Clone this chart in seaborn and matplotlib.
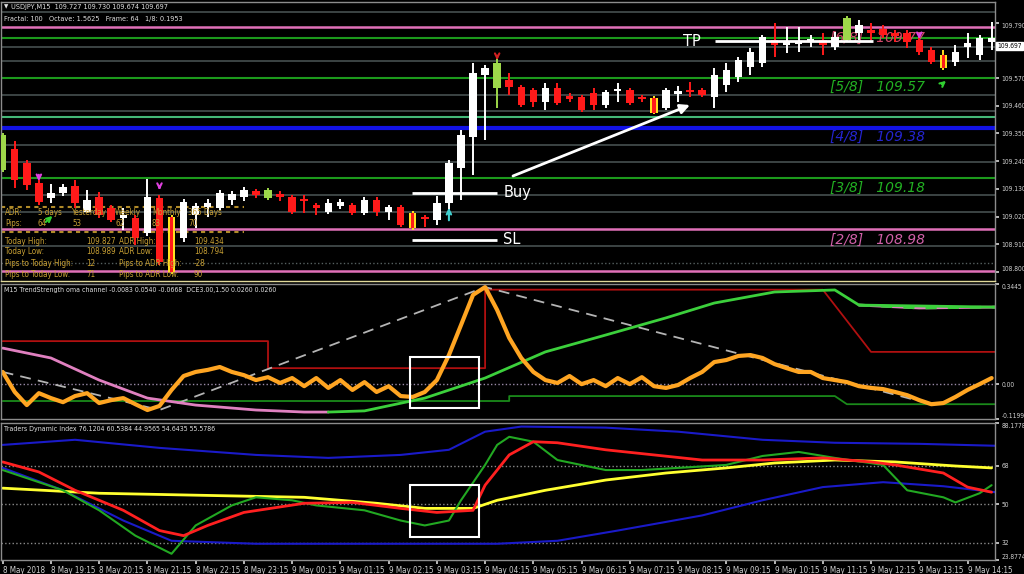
import numpy as np
import matplotlib
matplotlib.use("Agg")
import matplotlib.pyplot as plt
from matplotlib.patches import Rectangle
import seaborn as sns

# ---- USDJPY M15 bars, bar 0 = 8 May 18:15 ----
opens = [109.205, 109.288, 109.233, 109.153, 109.094, 109.114, 109.141, 109.038, 109.098, 109.054,
         109.014, 109.014, 108.955, 109.094, 109.018, 108.935, 109.026, 109.058, 109.054, 109.086,
         109.098, 109.122, 109.094, 109.110, 109.098, 109.090, 109.066, 109.038, 109.062, 109.066,
         109.034, 109.086, 109.038, 109.058, 109.034, 109.018, 109.006, 109.074, 109.213, 109.336,
         109.582, 109.531, 109.562, 109.534, 109.523, 109.475, 109.531, 109.499, 109.495, 109.511,
         109.463, 109.519, 109.523, 109.495, 109.491, 109.451, 109.507, 109.523, 109.523, 109.495,
         109.542, 109.574, 109.614, 109.630, 109.721, 109.701, 109.705, 109.713, 109.721, 109.693,
         109.721, 109.749, 109.761, 109.765, 109.749, 109.749, 109.721, 109.681, 109.662, 109.634,
         109.693, 109.662, 109.713]
highs = [109.352, 109.320, 109.245, 109.165, 109.149, 109.149, 109.165, 109.126, 109.118, 109.066,
         109.054, 109.026, 109.169, 109.106, 109.026, 109.090, 109.074, 109.090, 109.126, 109.122,
         109.137, 109.130, 109.134, 109.122, 109.106, 109.106, 109.074, 109.090, 109.090, 109.074,
         109.098, 109.098, 109.066, 109.066, 109.042, 109.026, 109.102, 109.245, 109.364, 109.630,
         109.622, 109.654, 109.590, 109.542, 109.531, 109.550, 109.550, 109.511, 109.503, 109.531,
         109.523, 109.550, 109.531, 109.503, 109.499, 109.531, 109.538, 109.554, 109.531, 109.610,
         109.630, 109.654, 109.689, 109.741, 109.789, 109.773, 109.773, 109.741, 109.749, 109.753,
         109.817, 109.801, 109.789, 109.781, 109.761, 109.761, 109.737, 109.693, 109.681, 109.701,
         109.749, 109.741, 109.793]
lows = [109.197, 109.134, 109.126, 109.066, 109.074, 109.102, 109.054, 109.034, 109.014, 108.998,
        108.967, 108.907, 108.943, 108.828, 108.792, 108.919, 108.975, 109.018, 109.046, 109.066,
        109.082, 109.094, 109.086, 109.082, 109.030, 109.034, 109.026, 109.030, 109.050, 109.026,
        109.026, 109.022, 109.006, 108.979, 108.967, 108.979, 108.987, 109.026, 109.086, 109.185,
        109.324, 109.451, 109.503, 109.455, 109.455, 109.443, 109.463, 109.475, 109.435, 109.443,
        109.451, 109.475, 109.463, 109.475, 109.427, 109.443, 109.475, 109.495, 109.495, 109.451,
        109.515, 109.554, 109.582, 109.614, 109.654, 109.670, 109.674, 109.693, 109.662, 109.681,
        109.713, 109.721, 109.721, 109.729, 109.713, 109.689, 109.662, 109.626, 109.602, 109.618,
        109.650, 109.642, 109.681]
closes = [109.344, 109.165, 109.145, 109.078, 109.114, 109.137, 109.074, 109.086, 109.026, 109.006,
          109.026, 108.935, 109.098, 108.840, 108.800, 109.078, 109.062, 109.074, 109.114, 109.110,
          109.126, 109.106, 109.126, 109.098, 109.038, 109.082, 109.054, 109.074, 109.078, 109.034,
          109.086, 109.038, 109.058, 108.987, 108.975, 109.010, 109.074, 109.233, 109.344, 109.590,
          109.610, 109.630, 109.534, 109.463, 109.475, 109.531, 109.471, 109.487, 109.443, 109.463,
          109.515, 109.527, 109.471, 109.487, 109.431, 109.523, 109.519, 109.515, 109.503, 109.582,
          109.602, 109.642, 109.674, 109.733, 109.701, 109.713, 109.717, 109.725, 109.701, 109.733,
          109.809, 109.781, 109.749, 109.741, 109.737, 109.713, 109.674, 109.634, 109.610, 109.674,
          109.709, 109.729, 109.729]
lime_bars = [0, 22, 41, 70]
yellow_bars = [14, 34, 54, 78]

# murrey math lines
grey_levels = [109.832, 109.693, 109.638, 109.503, 109.439, 109.305, 109.237, 109.106, 109.038, 108.903]
pink_levels = [109.771, 108.970, 108.804]
green_levels = [109.729, 109.570, 109.173]
teal_levels = [109.416]
blue_levels = [109.372]
octave_names = ["[6/8]", "[5/8]", "[4/8]", "[3/8]", "[2/8]"]
octave_values = ["109.77", "109.57", "109.38", "109.18", "108.98"]
octave_text_y = [109.729, 109.534, 109.336, 109.134, 108.927]
octave_colors = ["#d04a6a", "#22b022", "#2424d0", "#22b022", "#d060a8"]

# signal arrows (from -> to)
sig_x0 = [3, 13, 3.4, 37, 41, 76, 77.7]
sig_p0 = [109.197, 109.153, 108.991, 108.994, 109.670, 109.757, 109.538]
sig_x1 = [3, 13, 4.3, 37, 41, 76, 78.4]
sig_p1 = [109.149, 109.114, 109.030, 109.066, 109.630, 109.713, 109.566]
sig_col = ["#e040e0", "#e040e0", "#30d030", "#40d0d0", "#d02020", "#e040e0", "#30d030"]

# trade drawing
buy_level, sl_level, tp_level = 109.114, 108.927, 109.717
trend_start = (42.1, 109.177)
trend_end = (57.2, 109.467)

# ---- TrendStrength panel ----
orange = [0.042, -0.027, -0.072, -0.031, -0.048, -0.062, -0.041, -0.031, -0.065, -0.055,
          -0.048, -0.069, -0.089, -0.075, -0.020, 0.028, 0.042, 0.049, 0.059, 0.042,
          0.031, 0.014, 0.024, 0.004, 0.021, -0.007, 0.021, -0.013, 0.014, -0.020,
          0.007, -0.027, -0.007, -0.041, -0.044, -0.027, 0.014, 0.100, 0.203, 0.307,
          0.334, 0.255, 0.159, 0.090, 0.042, 0.014, 0.004, 0.028, 0.000, 0.014,
          -0.007, 0.021, 0.000, 0.024, -0.007, -0.013, -0.003, 0.021, 0.042, 0.076,
          0.083, 0.097, 0.100, 0.090, 0.069, 0.055, 0.042, 0.042, 0.021, 0.014,
          0.007, -0.007, -0.013, -0.017, -0.027, -0.038, -0.055, -0.069, -0.065, -0.044,
          -0.020, 0.000, 0.021]
dce_x = [0, 13, 40, 77]
dce_y = [0.042, -0.089, 0.334, -0.069]
chan_red_x = [0, 22, 22, 40, 40, 68, 72, 82.3]
chan_red_y = [0.148, 0.148, 0.055, 0.055, 0.325, 0.325, 0.111, 0.111]
chan_dg_x = [0, 42, 42, 69, 70, 82.3]
chan_dg_y = [-0.058, -0.058, -0.041, -0.041, -0.069, -0.069]
ts_pink_x = [0, 4, 8, 12, 16, 21, 25, 27]
ts_pink_y = [0.124, 0.090, 0.014, -0.048, -0.072, -0.089, -0.096, -0.096]
ts_green_x = [27, 30, 35, 40, 45, 50, 55, 59, 64, 69, 71, 82.3]
ts_green_y = [-0.096, -0.092, -0.048, 0.021, 0.111, 0.169, 0.228, 0.279, 0.317, 0.324, 0.272, 0.265]
ts_pink2_x = [71, 76, 82.3]
ts_pink2_y = [0.272, 0.262, 0.265]

# ---- Traders Dynamic Index panel ----
tdi_green_x = [0, 2, 5, 8, 11, 14, 16, 19, 21, 24, 26, 30, 33, 35, 37, 38, 40, 41, 42, 44,
               46, 50, 53, 56, 60, 63, 66, 69, 73, 75, 78, 79, 81, 82]
tdi_green_y = [66.1, 62.3, 56.6, 47.2, 35.3, 26.8, 40.1, 49.5, 53.3, 51.9, 49.5, 47.2, 42.4, 40.1, 42.4,
               51.9, 68.5, 77.9, 81.7, 79.4, 70.8, 66.1, 66.1, 67.1, 68.5, 72.7, 74.6, 71.8, 68.5, 56.6,
               53.3, 50.9, 55.2, 59.0]
tdi_red_x = [0, 3, 6, 10, 13, 15, 17, 20, 25, 29, 33, 36, 39, 40, 42, 44, 46, 50, 54, 58,
             63, 68, 72, 74, 78, 80, 82]
tdi_red_y = [69.9, 65.2, 56.6, 47.2, 37.7, 35.3, 40.1, 46.2, 50.5, 50.9, 48.1, 46.2, 47.2, 59.0, 73.2,
             79.4, 78.9, 75.6, 73.2, 70.8, 70.8, 71.8, 69.9, 68.5, 64.7, 58.1, 55.7]
tdi_yellow_x = [0, 8, 16, 25, 31, 35, 39, 41, 45, 50, 55, 60, 64, 69, 74, 79, 82]
tdi_yellow_y = [57.6, 55.2, 54.3, 53.3, 50.5, 48.1, 48.1, 51.9, 56.6, 61.4, 64.7, 67.1, 69.4, 70.8, 69.9,
                68.0, 67.1]
tdi_up_x = [0, 6, 13, 21, 27, 33, 37, 40, 43, 50, 56, 63, 69, 76, 82.3]
tdi_up_y = [77.9, 80.3, 76.5, 73.2, 71.8, 73.2, 75.6, 84.1, 86.5, 86.0, 84.1, 80.3, 78.9, 78.4, 77.5]
tdi_lo_x = [0, 5, 10, 14, 21, 33, 41, 46, 51, 58, 63, 68, 73, 78, 82.3]
tdi_lo_y = [67.1, 56.6, 42.4, 32.9, 31.5, 31.5, 31.5, 32.9, 37.7, 44.8, 51.9, 58.1, 60.4, 58.5, 55.7]

time_labels = ["8 May 2018", "8 May 19:15", "8 May 20:15", "8 May 21:15", "8 May 22:15",
               "8 May 23:15", "9 May 00:15", "9 May 01:15", "9 May 02:15", "9 May 03:15",
               "9 May 04:15", "9 May 05:15", "9 May 06:15", "9 May 07:15", "9 May 08:15",
               "9 May 09:15", "9 May 10:15", "9 May 11:15", "9 May 12:15", "9 May 13:15",
               "9 May 14:15"]

# ADR info box
adr_row1 = ["ADR:", "5 days", "Yesterday", "Weekly", "Monthly", "365 Days"]
adr_row2 = ["Pips:", "64", "53", "62", "83", "70"]
info_rows = [["Today High:", "109.827", "ADR High:", "109.434"],
             ["Today Low:", "108.989", "ADR Low:", "108.794"],
             ["Pips to Today High:", "12", "Pips to ADR High:", "-28"],
             ["Pips to Today Low:", "71", "Pips to ADR Low:", "90"]]

sns.set_theme(style="dark", rc={"axes.facecolor": "black", "figure.facecolor": "black",
                                "axes.edgecolor": "#8c8c8c", "text.color": "#d0d0d0",
                                "xtick.color": "#d0d0d0", "ytick.color": "#d0d0d0"})
plt.rcParams["font.family"] = ["DejaVu Sans"]
plt.rcParams["font.stretch"] = "condensed"

W, H = 1024, 574
fig = plt.figure(figsize=(W / 100, H / 100), dpi=100)


def box(top, bottom):
    return [1 / W, 1 - bottom / H, 994 / W, (bottom - top) / H]


def fpos(x, y):
    return x / W, 1 - y / H


ax1 = fig.add_axes(box(2, 281))
ax2 = fig.add_axes(box(284, 419))
ax3 = fig.add_axes(box(423, 560))
XL = (-0.14, 82.28)
for ax in (ax1, ax2, ax3):
    ax.set_facecolor("black")
    ax.set_xlim(*XL)
    ax.grid(False)
    for s in ax.spines.values():
        s.set_color("#8c8c8c")
        s.set_linewidth(1)
    ax.yaxis.tick_right()
    ax.tick_params(axis="y", colors="#d0d0d0", labelsize=4.8, length=3, right=True, left=False, pad=1.5)
    ax.tick_params(axis="x", bottom=False, labelbottom=False)
ax1.spines["bottom"].set_color("#e0d898")

# ---- main price panel ----
for lv in grey_levels:
    ax1.axhline(lv, color="#465050", lw=1.2, zorder=1)
ax1.axhline(108.836, color="#566060", lw=1, ls=":", zorder=1)
for lv in green_levels:
    ax1.axhline(lv, color="#1c9a1c", lw=1.5, zorder=1)
for lv in teal_levels:
    ax1.axhline(lv, color="#44b878", lw=1.5, zorder=1)
for lv in blue_levels:
    ax1.axhline(lv, color="#1212e6", lw=3, zorder=1)
for lv in pink_levels:
    ax1.axhline(lv, color="#e070b8", lw=1.8, zorder=1)
ax1.hlines([109.058, 108.959], XL[0], 20, color="#b08a28", lw=1.5, ls=(0, (2, 2)), zorder=1)

for name, val, ty, col in zip(octave_names, octave_values, octave_text_y, octave_colors):
    ax1.text(68.6, ty, name + "   " + val, color=col, fontsize=10, style="italic",
             va="center", ha="left", zorder=2, fontstretch="normal")

idx = np.arange(len(opens))
o = np.array(opens)
c = np.array(closes)
body_col, wick_col = [], []
for i in idx:
    if i in lime_bars:
        body_col.append("#9ed84a"); wick_col.append("#9ed84a")
    elif i in yellow_bars:
        body_col.append("#ffe020"); wick_col.append("#ffe020")
    elif c[i] >= o[i]:
        body_col.append("white"); wick_col.append("white")
    else:
        body_col.append("#ff1a1a"); wick_col.append("#ff1a1a")
bottoms = np.minimum(o, c)
heights = np.maximum(np.abs(c - o), 0.004)
ax1.vlines(idx, lows, highs, colors=wick_col, lw=1.4, zorder=3)
ax1.bar(idx, heights, bottom=bottoms, width=0.62, color=body_col, linewidth=0, zorder=4)
yb = np.array(yellow_bars)
ax1.bar(yb, heights[yb], bottom=bottoms[yb], width=0.28, color="#ff1a1a", linewidth=0, zorder=5)

for x0, p0, x1, p1, col in zip(sig_x0, sig_p0, sig_x1, sig_p1, sig_col):
    ax1.annotate("", xy=(x1, p1), xytext=(x0, p0),
                 arrowprops=dict(arrowstyle="->", color=col, lw=1.5, mutation_scale=8), zorder=6)

ax1.hlines([buy_level, sl_level], 33.9, 41.0, color="white", lw=2, zorder=6)
ax1.hlines(tp_level, 59.1, 72.2, color="white", lw=2, zorder=6)
for lbl, xx, lv in (("Buy", 41.5, buy_level), ("SL", 41.5, sl_level), ("TP", 56.4, tp_level)):
    ax1.text(xx, lv, lbl, color="white", fontsize=10.5, va="center", ha="left", zorder=6,
             fontstretch="normal")
ax1.annotate("", xy=trend_end, xytext=trend_start,
             arrowprops=dict(arrowstyle="-|>", color="white", lw=2, mutation_scale=14), zorder=6)

ax1.set_ylim(108.764, 109.872)
p_ticks = [109.790, 109.570, 109.460, 109.350, 109.240, 109.130, 109.020, 108.910, 108.800]
ax1.set_yticks(p_ticks)
ax1.set_yticklabels([f"{v:.3f}" for v in p_ticks])

# ---- TrendStrength ----
ax2.axhline(0, color="#9a8aa8", lw=1, ls=":")
sns.lineplot(x=chan_red_x, y=chan_red_y, ax=ax2, color="#b01010", lw=1.3, estimator=None, sort=False)
sns.lineplot(x=chan_dg_x, y=chan_dg_y, ax=ax2, color="#1a8a1a", lw=1.3, estimator=None, sort=False)
sns.lineplot(x=dce_x, y=dce_y, ax=ax2, color="#b4b4b4", lw=1.3, linestyle=(0, (6, 4)),
             estimator=None, sort=False)
sns.lineplot(x=ts_pink_x, y=ts_pink_y, ax=ax2, color="#e080c0", lw=2, estimator=None, sort=False)
sns.lineplot(x=ts_pink2_x, y=ts_pink2_y, ax=ax2, color="#e080c0", lw=2, estimator=None, sort=False)
sns.lineplot(x=ts_green_x, y=ts_green_y, ax=ax2, color="#3cd03c", lw=2, estimator=None, sort=False)
sns.lineplot(x=ts_pink2_x, y=ts_pink2_y, ax=ax2, color="#3cd03c", lw=2, linestyle=(0, (4, 4)),
             estimator=None, sort=False)
sns.lineplot(x=idx, y=orange, ax=ax2, color="#ffa522", lw=3, estimator=None, sort=False)
ax2.add_patch(Rectangle((33.8, -0.082), 5.7, 0.175, fill=False, ec="white", lw=1.5, zorder=7))
ax2.set_ylim(-0.1199, 0.3445)
ax2.set_yticks([0.3445, 0.0, -0.1199])
ax2.set_yticklabels(["0.3445", "0.00", "-0.1199"])
ax2.set_ylabel("")

# ---- TDI ----
for lv in (68, 50, 32):
    ax3.axhline(lv, color="#8a8a8a", lw=1, ls=":")
sns.lineplot(x=tdi_up_x, y=tdi_up_y, ax=ax3, color="#1a1ac8", lw=1.5, estimator=None, sort=False)
sns.lineplot(x=tdi_lo_x, y=tdi_lo_y, ax=ax3, color="#1a1ac8", lw=1.5, estimator=None, sort=False)
sns.lineplot(x=tdi_yellow_x, y=tdi_yellow_y, ax=ax3, color="#ffff30", lw=2, estimator=None, sort=False)
sns.lineplot(x=tdi_green_x, y=tdi_green_y, ax=ax3, color="#22a822", lw=1.5, estimator=None, sort=False)
sns.lineplot(x=tdi_red_x, y=tdi_red_y, ax=ax3, color="#ff2020", lw=2, estimator=None, sort=False)
ax3.add_patch(Rectangle((33.8, 34.7), 5.7, 24.4, fill=False, ec="white", lw=1.5, zorder=7))
ax3.set_ylim(23.8774, 88.1778)
ax3.set_yticks([88.1778, 68, 50, 32, 23.8774])
ax3.set_yticklabels(["88.1778", "68", "50", "32", "23.8774"])
ax3.set_ylabel("")

ax3.set_xticks(np.arange(0, 81, 4))
ax3.set_xticklabels(time_labels, ha="left")
ax3.tick_params(axis="x", bottom=True, labelbottom=True, length=3, colors="#d0d0d0",
                labelsize=5.8, pad=1)
ax3.set_xlim(*XL)

for ax in (ax1, ax2, ax3):
    labs = ax.get_yticklabels()
    labs[0].set_va("top")
    labs[-1].set_va("bottom")

# ---- texts ----
fig.text(*fpos(4, 7), "\u25bc", fontsize=4.5, color="#e0e0e0", va="center")
fig.text(*fpos(11, 7), "USDJPY,M15  109.727 109.730 109.674 109.697", fontsize=5.2,
         color="#e0e0e0", va="center")
fig.text(*fpos(4, 19), "Fractal: 100   Octave: 1.5625   Frame: 64   1/8: 0.1953", fontsize=5.2,
         color="#e0e0e0", va="center")
fig.text(*fpos(4, 290), "M15 TrendStrength oma channel -0.0083 0.0540 -0.0668  DCE3.00,1.50 0.0260 0.0260",
         fontsize=5, color="#e0e0e0", va="center")
fig.text(*fpos(4, 429), "Traders Dynamic Index 76.1204 60.5384 44.9565 54.6435 55.5786",
         fontsize=5, color="#e0e0e0", va="center")

gold = "#c8a034"
cols1 = [5, 38, 72, 115, 152, 188]
for txt, x in zip(adr_row1, cols1):
    fig.text(*fpos(x, 213), txt, fontsize=5.8, color=gold, va="center")
for txt, x in zip(adr_row2, cols1):
    fig.text(*fpos(x, 223), txt, fontsize=5.8, color=gold, va="center")
cols2 = [5, 86, 119, 194]
for row, y in zip(info_rows, [241, 252, 263, 274]):
    for txt, x in zip(row, cols2):
        fig.text(*fpos(x, y), txt, fontsize=5.8, color=gold, va="center")

fig.text(*fpos(997, 46), "109.697", fontsize=4.8, color="black", va="center",
         bbox=dict(boxstyle="square,pad=0.2", fc="white", ec="white"))

fig.savefig("out.png", dpi=100, facecolor="black")
